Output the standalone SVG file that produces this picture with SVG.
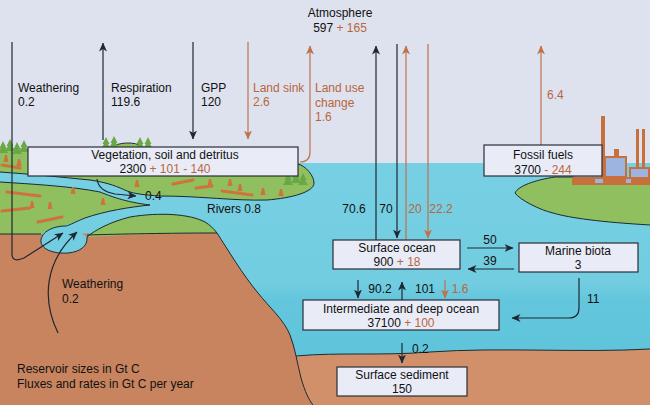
<svg xmlns="http://www.w3.org/2000/svg" width="650" height="405" viewBox="0 0 650 405">
<defs>
<style>
text{font-family:"Liberation Sans",Arial,sans-serif;font-size:12px;fill:#111}
.o{fill:#b9653b}
.mid{text-anchor:middle}
.box{fill:#e9ecf7;stroke:#2a2e38;stroke-width:1.2}
.ln{fill:none;stroke:#1e2833;stroke-width:1.2}
.lo{fill:none;stroke:#c0714a;stroke-width:1.2}
.coast{fill:none;stroke:#1d2a30;stroke-width:1}
.green{fill:#8fbf5e}
.log{stroke:#cf733d;stroke-width:3;stroke-linecap:round}
.fac{fill:#c8703c}
.win{fill:#9db4e0}
</style>
<marker id="ab" markerWidth="9" markerHeight="8" refX="8.5" refY="4" orient="auto" markerUnits="userSpaceOnUse"><path d="M0,0 L9,4 L0,8 L2.5,4 Z" fill="#1e2833"/></marker>
<marker id="ao" markerWidth="9" markerHeight="8" refX="8.5" refY="4" orient="auto" markerUnits="userSpaceOnUse"><path d="M0,0 L9,4 L0,8 L2.5,4 Z" fill="#c0714a"/></marker>
<linearGradient id="sea" x1="0" y1="0" x2="0" y2="1">
<stop offset="0" stop-color="#77cfe3"/>
<stop offset="0.62" stop-color="#72cde1"/>
<stop offset="0.7" stop-color="#63c6dc"/>
<stop offset="1" stop-color="#5fc4da"/>
</linearGradient>
<path id="st" d="M-2.5,4 L-1,-3 L1,-3 L2.5,4 Z" fill="#cf733d"/>
<path id="tr" d="M0,-11 L3.5,-4 L2,-4 L5,1 L-5,1 L-2,-4 L-3.5,-4 Z" fill="#6aa845"/>
</defs>

<g id="background">
<rect x="0" y="0" width="650" height="405" fill="#dee2ef"/>
<rect x="0" y="163" width="650" height="195" fill="url(#sea)"/>
<path d="M290,357 C340,352 380,356 430,352 C500,347 580,353 650,349 L650,405 L290,405 Z" fill="#d2906a"/>
<path class="coast" d="M296,356 C340,352 380,356 430,352 C500,347 580,353 650,349"/>
<path d="M0,234 L217,233 C228,250 243,275 258,293 C270,308 284,320 290,335 C295,348 297,362 301,378 C305,392 309,400 313,405 L0,405 Z" fill="#c7845f"/>
<path class="coast" d="M217,233 C228,250 243,275 258,293 C270,308 284,320 290,335 C295,348 297,362 301,378 C305,392 309,400 313,405"/>
<!-- upper land -->
<path class="green" d="M0,148 H298 V164 C306,166 314,176 314,183 C314,192 292,198 267,200 C235,201 200,196 160,196 C145,195 135,194 127,191 C118,187 110,183 90,180 C60,177 30,174 0,172 Z"/>
<path class="green" d="M0,182 C30,184 70,186 100,192 C110,196 125,202 150,205 C130,207 105,211 85,218 C70,224 55,228 40,234 L0,234 Z"/>
<path class="green" d="M87,237 C95,230 110,222 130,217 C160,212 190,214 205,222 C210,225 214,229 217,233 C170,233 130,235 87,237 Z"/>
<path d="M66,226 C50,226 40,234 41,242 C42,250 55,254 68,253 C80,252 88,246 87,237 C80,232 72,228 66,226 Z" fill="#72cde1"/>
<path class="green" d="M110,149 C118,142 135,141 143,148 Z" stroke="none"/>
<path class="coast" d="M110,148 C118,142 135,141 143,147"/>
<path class="coast" d="M298,164 C306,166 314,176 314,183 C314,192 292,198 267,200 C235,201 200,196 160,196 C145,195 135,194 127,191 C118,187 110,183 90,180 C60,177 30,174 0,172"/>
<path class="coast" d="M0,182 C30,184 70,186 100,192 C110,196 125,202 150,205 C130,207 105,211 85,218 C75,222 70,225 66,226"/>
<path class="coast" d="M66,226 C50,226 40,234 41,242 C42,250 55,254 68,253 C80,252 88,246 87,237"/>
<path class="coast" d="M87,237 C95,230 110,222 130,217 C160,212 190,214 205,222 C210,225 214,229 217,233"/>
<path class="coast" d="M0,234 H41 M87,235 C120,234 170,233 217,233"/>
<!-- trees and debris -->
<use href="#tr" x="3" y="152"/><use href="#tr" x="10" y="150"/><use href="#tr" x="17" y="153"/><use href="#tr" x="24" y="151"/>
<use href="#tr" x="106" y="148"/><use href="#tr" x="114" y="147"/><use href="#tr" x="140" y="148"/><use href="#tr" x="148" y="148"/>
<use href="#tr" x="288" y="184"/><use href="#tr" x="296" y="182"/><use href="#tr" x="303" y="184"/>
<line class="log" x1="7" y1="192" x2="40" y2="196"/>
<line class="log" x1="2" y1="211" x2="30" y2="208"/>
<line class="log" x1="38" y1="222" x2="62" y2="217"/>
<line class="log" x1="173" y1="184" x2="193" y2="180"/>
<line class="log" x1="222" y1="191" x2="252" y2="195"/>
<line class="log" x1="196" y1="188" x2="212" y2="186"/>
<line class="log" x1="2" y1="165" x2="20" y2="168"/>
<use href="#st" x="6" y="158"/><use href="#st" x="19" y="162"/><use href="#st" x="73" y="190"/><use href="#st" x="50" y="205"/>
<use href="#st" x="103" y="201"/><use href="#st" x="137" y="183"/><use href="#st" x="210" y="182"/><use href="#st" x="240" y="187"/>
<use href="#st" x="263" y="191"/><use href="#st" x="281" y="192"/><use href="#st" x="230" y="182"/><use href="#st" x="32" y="204"/>
<!-- right island -->
<path class="green" d="M515,193 C518,186 535,180 555,177 L573,177 L650,177 L650,225 C600,222 570,218 553,213 C540,210 520,200 515,193 Z"/>
<path class="coast" d="M574,177 L555,177 C535,180 518,186 515,193 C520,200 540,210 553,213 C570,218 600,222 650,225"/>
<!-- factory -->
<rect class="fac" x="601" y="116" width="4" height="62"/>
<rect class="fac" x="614" y="149" width="5" height="9"/>
<rect class="win" x="605" y="157" width="21" height="20" stroke="#c8703c" stroke-width="2"/>
<rect class="fac" x="636" y="129" width="3" height="40"/>
<rect class="fac" x="642" y="129" width="3" height="40"/>
<rect class="win" x="630" y="168" width="19" height="10" stroke="#c8703c" stroke-width="2"/>
<rect class="fac" x="572" y="177" width="78" height="8"/>
<rect class="win" x="595" y="179" width="8" height="4"/>
<rect class="win" x="626" y="179" width="5" height="4"/>
</g>

<g id="connectors">
<path class="ln" d="M12,42 V254 Q12,263 24,258 L63,233" marker-end="url(#ab)"/>
<path class="ln" d="M58,333 C42,300 44,262 77,232" marker-end="url(#ab)"/>
<path class="ln" d="M97,179 C98,187 104,192 115,194 L136,196" marker-end="url(#ab)"/>
<path class="ln" d="M103,140 V43" marker-end="url(#ab)"/>
<path class="ln" d="M193,42 V139" marker-end="url(#ab)"/>
<path class="lo" d="M248,42 V139" marker-end="url(#ao)"/>
<path class="lo" d="M300,162 Q310,162 310,152 V46" marker-end="url(#ao)"/>
<path class="ln" d="M376,240 V46" marker-end="url(#ab)"/>
<path class="ln" d="M397,44 V238" marker-end="url(#ab)"/>
<path class="lo" d="M406,240 V46" marker-end="url(#ao)"/>
<path class="lo" d="M428,44 V238" marker-end="url(#ao)"/>
<path class="lo" d="M541,145 V46" marker-end="url(#ao)"/>
<path class="ln" d="M467,248 H513" marker-end="url(#ab)"/>
<path class="ln" d="M514,269 H468" marker-end="url(#ab)"/>
<path class="ln" d="M358,280 V298" marker-end="url(#ab)"/>
<path class="ln" d="M402,300 V282" marker-end="url(#ab)"/>
<path class="lo" d="M445,280 V298" marker-end="url(#ao)"/>
<path class="ln" d="M579,278 V308 Q579,318 569,318 H512" marker-end="url(#ab)"/>
<path class="ln" d="M402,343 V363" marker-end="url(#ab)"/>
</g>

<g id="labels">
<text x="18" y="92">Weathering</text><text x="18" y="106">0.2</text>
<text x="111" y="92">Respiration</text><text x="111" y="106">119.6</text>
<text x="201" y="92">GPP</text><text x="201" y="106">120</text>
<text class="o" x="253" y="92">Land sink</text><text class="o" x="253" y="106">2.6</text>
<text class="o" x="315" y="92">Land use</text><text class="o" x="315" y="107">change</text><text class="o" x="315" y="121">1.6</text>
<text class="o" x="547" y="99">6.4</text>
<text class="mid" x="354" y="213">70.6</text>
<text class="mid" x="386" y="213">70</text>
<text class="mid o" x="415" y="213">20</text>
<text class="mid o" x="441" y="213">22.2</text>
<text class="mid" x="490" y="244">50</text>
<text class="mid" x="490" y="265">39</text>
<text class="mid" x="380" y="293">90.2</text>
<text class="mid" x="425" y="293">101</text>
<text class="mid o" x="460" y="293">1.6</text>
<text x="587" y="303">11</text>
<text x="412" y="353">0.2</text>
<text x="145" y="200">0.4</text>
<text x="207" y="213">Rivers 0.8</text>
<text x="62" y="288">Weathering</text><text x="62" y="303">0.2</text>
<text x="17" y="373">Reservoir sizes in Gt C</text>
<text x="17" y="388">Fluxes and rates in Gt C per year</text>
</g>

<g id="atmosphere">
<text class="mid" x="340" y="17">Atmosphere</text>
<text class="mid" x="340" y="32">597 <tspan class="o">+ 165</tspan></text>
</g>
<g id="vegetation">
<rect class="box" x="28" y="147" width="270" height="29"/>
<text class="mid" x="165" y="159">Vegetation, soil and detritus</text>
<text class="mid" x="165" y="173">2300 <tspan class="o">+ 101 - 140</tspan></text>
</g>
<g id="fossil-fuels">
<rect class="box" x="484" y="145" width="118" height="31"/>
<text class="mid" x="543" y="159">Fossil fuels</text>
<text class="mid" x="543" y="174">3700 <tspan class="o">- 244</tspan></text>
</g>
<g id="surface-ocean">
<rect class="box" x="333" y="240" width="127" height="29"/>
<text class="mid" x="397" y="252">Surface ocean</text>
<text class="mid" x="397" y="266">900 <tspan class="o">+ 18</tspan></text>
</g>
<g id="marine-biota">
<rect class="box" x="519" y="243" width="119" height="29"/>
<text class="mid" x="578" y="255">Marine biota</text>
<text class="mid" x="578" y="269">3</text>
</g>
<g id="deep-ocean">
<rect class="box" x="303" y="300" width="196" height="30"/>
<text class="mid" x="401" y="313">Intermediate and deep ocean</text>
<text class="mid" x="401" y="327">37100 <tspan class="o">+ 100</tspan></text>
</g>
<g id="surface-sediment">
<rect class="box" x="337" y="367" width="130" height="29"/>
<text class="mid" x="402" y="379">Surface sediment</text>
<text class="mid" x="402" y="393">150</text>
</g>
</svg>
